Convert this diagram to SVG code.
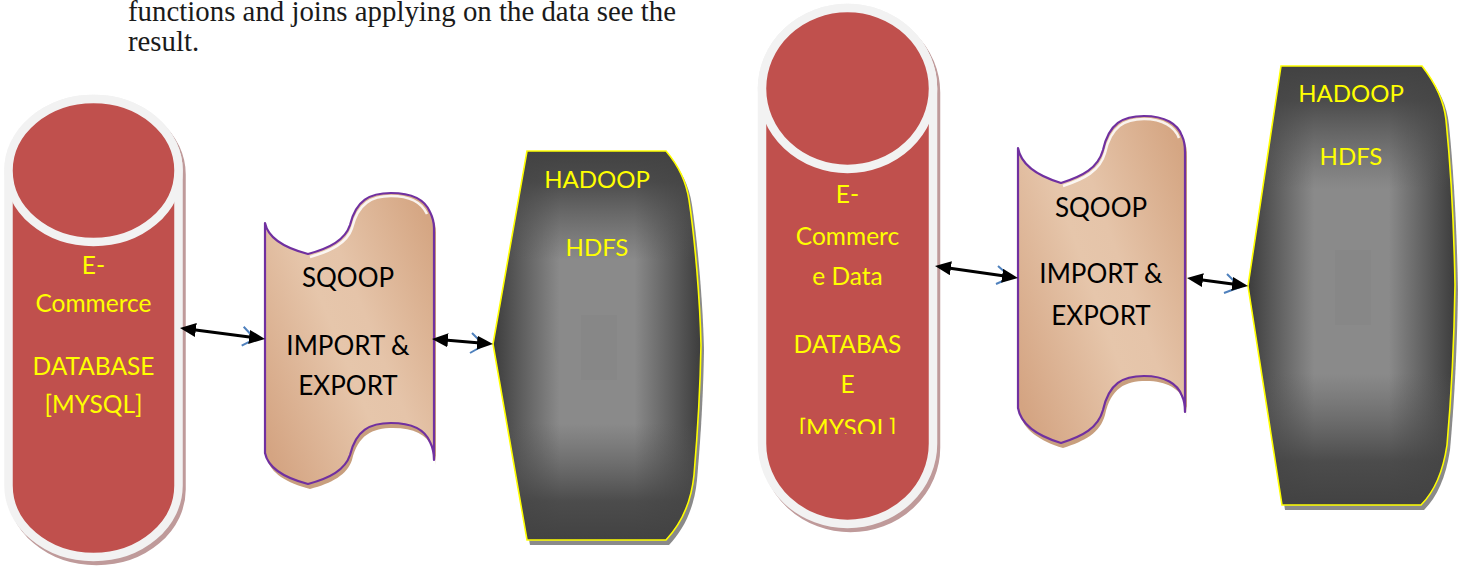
<svg xmlns="http://www.w3.org/2000/svg" width="1464" height="567" viewBox="0 0 1464 567">
<defs>
<style>
.para{font-family:"Liberation Serif",serif;font-size:28.8px;fill:#1a1a1a}
.cap{font-family:Lato,"Liberation Sans",sans-serif;text-anchor:middle}
.cyl{font-size:24.5px;fill:#ffff00}
.sq{font-size:26px;fill:#000}
.hd{font-size:24px;fill:#ffff00}
.shell{fill:#c0504d;stroke:#f2f2f2;stroke-width:8.5}
.shellSh{fill:#bf9a9a;stroke:#bf9a9a;stroke-width:8.5}
.tape{fill:url(#tapeG);stroke:#7030a0;stroke-width:2.2;stroke-linejoin:round}
.tapeSh{fill:#c89f7e}
.hl{fill:none;stroke:#fff;stroke-width:2.5;opacity:.85}
.hdfs{fill:url(#hx)}
.hdfsOv{fill:url(#hy)}
.hdfsEdge{fill:none;stroke:#ffff00;stroke-width:1.6}
.hdfsSh{fill:#8a8a8a}
.core{fill:#7a7a7a;opacity:.18}
.conn{fill:none;stroke:#000;stroke-width:3;marker-start:url(#ah);marker-end:url(#ah)}
.hook{fill:none;stroke:#4f81bd;stroke-width:2}
</style>
<linearGradient id="tapeG" x1="0" y1="0.85" x2="1" y2="0.15">
<stop offset="0" stop-color="#d4a482"/>
<stop offset="0.45" stop-color="#e6c6ab"/>
<stop offset="0.6" stop-color="#e5c4a9"/>
<stop offset="1" stop-color="#d5a683"/>
</linearGradient>
<linearGradient id="hx" x1="0" y1="0" x2="1" y2="0">
<stop offset="0" stop-color="#3c3c3c"/>
<stop offset="0.1" stop-color="#555"/>
<stop offset="0.32" stop-color="#8a8a8a"/>
<stop offset="0.68" stop-color="#8a8a8a"/>
<stop offset="0.9" stop-color="#555"/>
<stop offset="1" stop-color="#3c3c3c"/>
</linearGradient>
<linearGradient id="hy" x1="0" y1="0" x2="0" y2="1">
<stop offset="0" stop-color="#424242" stop-opacity="1"/>
<stop offset="0.08" stop-color="#454545" stop-opacity="0.9"/>
<stop offset="0.28" stop-color="#555" stop-opacity="0"/>
<stop offset="0.7" stop-color="#555" stop-opacity="0"/>
<stop offset="0.9" stop-color="#454545" stop-opacity="0.9"/>
<stop offset="1" stop-color="#424242" stop-opacity="1"/>
</linearGradient>
<marker id="ah" viewBox="0 0 16 14" refX="6" refY="7" markerWidth="16" markerHeight="14" markerUnits="userSpaceOnUse" orient="auto-start-reverse">
<path d="M0,0 L16,7 L0,14 Z" fill="#000"/>
</marker>
<clipPath id="clipMy"><rect x="760" y="380" width="180" height="54"/></clipPath>
</defs>
<rect width="1464" height="567" fill="#fff"/>

<g id="paragraph">
<text class="para" x="128" y="20.5" textLength="548" lengthAdjust="spacing">functions and joins applying on the data see the</text>
<text class="para" x="128" y="50.5">result.</text>
</g>

<g id="db1">
<path class="shellSh" transform="translate(3,4)" d="M8.5,170.5 A85,71.5 0 0 1 178.5,170.5 L178.5,485.5 A85,71.5 0 0 1 8.5,485.5 Z"/>
<path class="shell" d="M8.5,170.5 A85,71.5 0 0 1 178.5,170.5 L178.5,485.5 A85,71.5 0 0 1 8.5,485.5 Z"/>
<ellipse class="shell" cx="93.5" cy="170.5" rx="85" ry="71.5"/>
<g class="cap cyl">
<text x="93.5" y="274">E-</text>
<text x="93.5" y="312">Commerce</text>
<text x="93.5" y="375">DATABASE</text>
<text x="93.5" y="413">[MYSQL]</text>
</g>
</g>

<g id="sqoop1">
<path class="tapeSh" transform="translate(2,5)" d="M265,223 C268,238 285,248 308,254 C330,248 345,240 350,225 C356,200 370,193 391,193 C412,193 425,200 430,212 C433,218 434,222 434,228 L434,460 C434,454 433,448 430,442 C425,430 412,423 391,423 C370,423 356,430 350,455 C345,470 330,478 308,484 C285,478 268,468 265,453 Z"/>
<path class="tape" d="M265,223 C268,238 285,248 308,254 C330,248 345,240 350,225 C356,200 370,193 391,193 C412,193 425,200 430,212 C433,218 434,222 434,228 L434,460 C434,454 433,448 430,442 C425,430 412,423 391,423 C370,423 356,430 350,455 C345,470 330,478 308,484 C285,478 268,468 265,453 Z"/>
<path class="hl" d="M310,257 C331,251 347,243 352,228 C358,203 372,196 391,196 C410,196 422,203 427,214"/>
<g class="cap sq">
<text x="348" y="287">SQOOP</text>
<text x="348" y="355">IMPORT &amp;</text>
<text x="348" y="395">EXPORT</text>
</g>
</g>

<g id="hdfs1">
<path class="hdfsSh" transform="translate(3,5)" d="M527,151 L666,151 C678,165 686,180 689,200 C695,240 700,300 701,345 C700,400 697,440 694,475 C691,505 680,525 666,540 L527,540 L493,344 Z"/>
<path class="hdfs" d="M527,151 L666,151 C678,165 686,180 689,200 C695,240 700,300 701,345 C700,400 697,440 694,475 C691,505 680,525 666,540 L527,540 L493,344 Z"/>
<path class="hdfsOv" d="M527,151 L666,151 C678,165 686,180 689,200 C695,240 700,300 701,345 C700,400 697,440 694,475 C691,505 680,525 666,540 L527,540 L493,344 Z"/>
<rect class="core" x="581" y="315" width="36" height="65"/>
<path class="hdfsEdge" d="M527,151 L666,151 C678,165 686,180 689,200 C695,240 700,300 701,345 C700,400 697,440 694,475 C691,505 680,525 666,540 L527,540 L493,344 Z"/>
<g class="cap hd">
<text x="597" y="188">HADOOP</text>
<text x="597" y="256">HDFS</text>
</g>
</g>

<g id="db2">
<path class="shellSh" transform="translate(3,4)" d="M762,88.5 A85.5,80.5 0 0 1 933,88.5 L933,443.5 A85.5,80.5 0 0 1 762,443.5 Z"/>
<path class="shell" d="M762,88.5 A85.5,80.5 0 0 1 933,88.5 L933,443.5 A85.5,80.5 0 0 1 762,443.5 Z"/>
<ellipse class="shell" cx="847.5" cy="88.5" rx="85.5" ry="80.5"/>
<g class="cap cyl">
<text x="847.5" y="203">E-</text>
<text x="847.5" y="245">Commerc</text>
<text x="847.5" y="285">e Data</text>
<text x="847.5" y="353">DATABAS</text>
<text x="847.5" y="393">E</text>
<text x="847.5" y="437" clip-path="url(#clipMy)">[MYSQL]</text>
</g>
</g>

<g id="sqoop2">
<path class="tapeSh" transform="translate(2,5)" d="M1018,148 C1021,165 1038,176 1061,183 C1083,176 1098,168 1103,150 C1109,123 1123,116 1144,116 C1165,116 1178,124 1182,136 C1185,142 1185,146 1185,152 L1185,412 C1185,406 1185,402 1182,396 C1178,384 1165,376 1144,376 C1123,376 1109,383 1103,410 C1098,428 1083,436 1061,443 C1038,436 1021,425 1018,408 Z"/>
<path class="tape" d="M1018,148 C1021,165 1038,176 1061,183 C1083,176 1098,168 1103,150 C1109,123 1123,116 1144,116 C1165,116 1178,124 1182,136 C1185,142 1185,146 1185,152 L1185,412 C1185,406 1185,402 1182,396 C1178,384 1165,376 1144,376 C1123,376 1109,383 1103,410 C1098,428 1083,436 1061,443 C1038,436 1021,425 1018,408 Z"/>
<path class="hl" d="M1063,186 C1084,179 1100,171 1105,153 C1111,126 1125,119 1144,119 C1163,119 1175,127 1179,138"/>
<g class="cap sq">
<text x="1101" y="217">SQOOP</text>
<text x="1101" y="283">IMPORT &amp;</text>
<text x="1101" y="325">EXPORT</text>
</g>
</g>

<g id="hdfs2">
<path class="hdfsSh" transform="translate(3,5)" d="M1281,66 L1422,66 C1436,84 1444,100 1446,120 C1451,170 1454,230 1455,285 C1454,350 1451,400 1447,445 C1443,472 1434,492 1421,505 L1282,505 L1248,286 Z"/>
<path class="hdfs" d="M1281,66 L1422,66 C1436,84 1444,100 1446,120 C1451,170 1454,230 1455,285 C1454,350 1451,400 1447,445 C1443,472 1434,492 1421,505 L1282,505 L1248,286 Z"/>
<path class="hdfsOv" d="M1281,66 L1422,66 C1436,84 1444,100 1446,120 C1451,170 1454,230 1455,285 C1454,350 1451,400 1447,445 C1443,472 1434,492 1421,505 L1282,505 L1248,286 Z"/>
<rect class="core" x="1335" y="250" width="36" height="75"/>
<path class="hdfsEdge" d="M1281,66 L1422,66 C1436,84 1444,100 1446,120 C1451,170 1454,230 1455,285 C1454,350 1451,400 1447,445 C1443,472 1434,492 1421,505 L1282,505 L1248,286 Z"/>
<g class="cap hd">
<text x="1351" y="102">HADOOP</text>
<text x="1351" y="165">HDFS</text>
</g>
</g>

<g id="connectors">
<path class="hook" d="M243.7,326.7 L255,339 L241.7,345.7"/>
<path class="hook" d="M472,333 L484,345 L470,353"/>
<path class="hook" d="M998,266 L1011,277.5 L996,284"/>
<path class="hook" d="M1227,274 L1240,287 L1224,293"/>
<line class="conn" x1="189.9" y1="329.3" x2="255.1" y2="337.7"/>
<line class="conn" x1="442" y1="339.8" x2="483" y2="343.2"/>
<line class="conn" x1="944.9" y1="267.4" x2="1008.1" y2="276.6"/>
<line class="conn" x1="1196.9" y1="279.3" x2="1238.1" y2="284.7"/>
</g>
</svg>
